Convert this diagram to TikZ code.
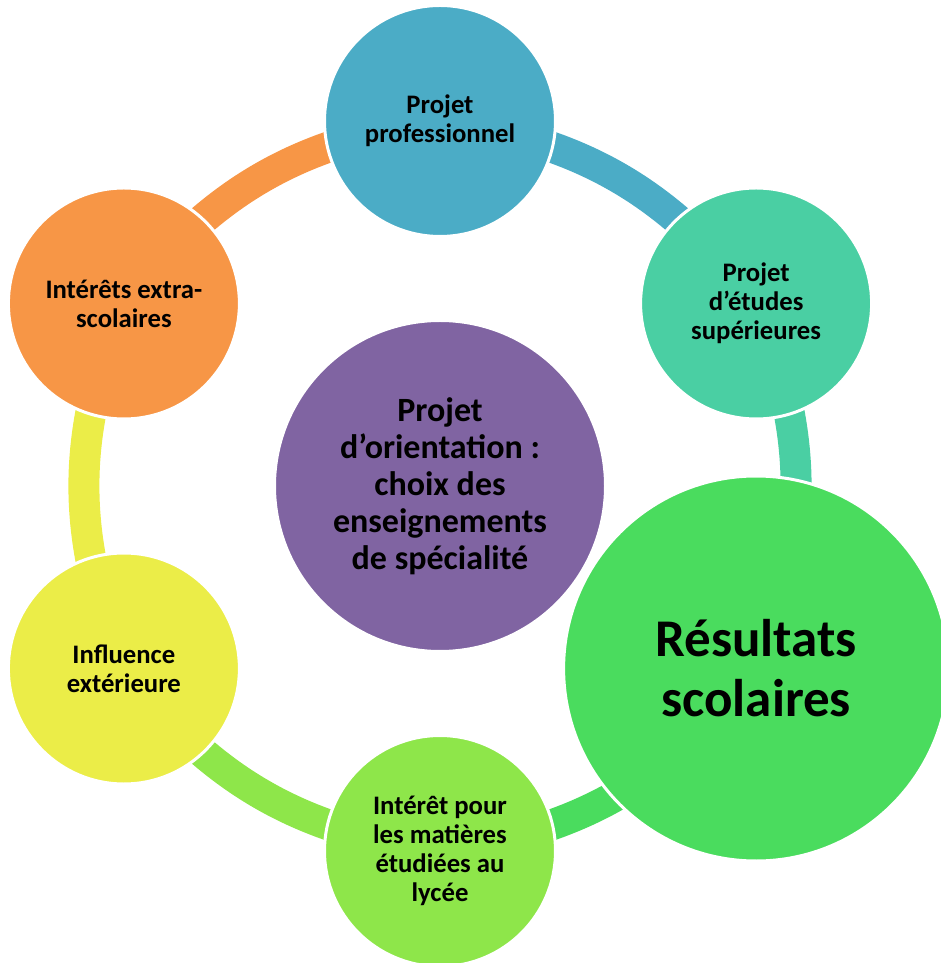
\documentclass[tikz,border=0pt]{standalone}
\usepackage{fontspec}
\setmainfont{Carlito}
\usetikzlibrary{backgrounds}

\definecolor{cprof}{HTML}{4BACC6}
\definecolor{cetud}{HTML}{4ACFA3}
\definecolor{cres}{HTML}{4ADC5E}
\definecolor{clyc}{HTML}{8EE64A}
\definecolor{cinfl}{HTML}{EBED48}
\definecolor{cextra}{HTML}{F79646}
\definecolor{corient}{HTML}{8064A2}

\tikzset{
    bubble/.style={circle, draw=white, line width=3pt, align=center, inner sep=0pt,
        minimum size=231pt, font=\bfseries\fontsize{26.7}{29}\selectfont},
    ring/.style={draw=#1, line width=31pt, bend left=22},
}

\begin{document}
\begin{tikzpicture}[x=1pt, y=1pt]
    \useasboundingbox (-440,-477) rectangle (501,486);
    \node[bubble, fill=corient, minimum size=331pt,
        font=\bfseries\fontsize{34}{37}\selectfont]          (orient) at (0,0)      {Projet\\d’orientation :\\choix des\\enseignements\\de spécialité};
    \node[bubble, fill=cprof]                                (prof)   at (90:365)  {Projet\\professionnel};
    \node[bubble, fill=cetud]                                (etud)   at (30:365)  {Projet\\d’études\\supérieures};
    \node[bubble, fill=cres, minimum size=385pt,
        font=\bfseries\fontsize{53}{60}\selectfont]          (res)    at (-30:365) {Résultats\\scolaires};
    \node[bubble, fill=clyc]                                 (lyc)    at (-90:365) {Intérêt pour\\les matières\\étudiées au\\lycée};
    \node[bubble, fill=cinfl]                                (infl)   at (210:365) {Influence\\extérieure};
    \node[bubble, fill=cextra]                               (extra)  at (150:365) {Intérêts extra-\\scolaires};
    \begin{scope}[on background layer]
    \path
        (prof.center)  edge [ring=cprof]  (etud.center)
        (etud.center)  edge [ring=cetud]  (res.center)
        (res.center)   edge [ring=cres]   (lyc.center)
        (lyc.center)   edge [ring=clyc]   (infl.center)
        (infl.center)  edge [ring=cinfl]  (extra.center)
        (extra.center) edge [ring=cextra] (prof.center)
        ;
    \end{scope}
\end{tikzpicture}
\end{document}
